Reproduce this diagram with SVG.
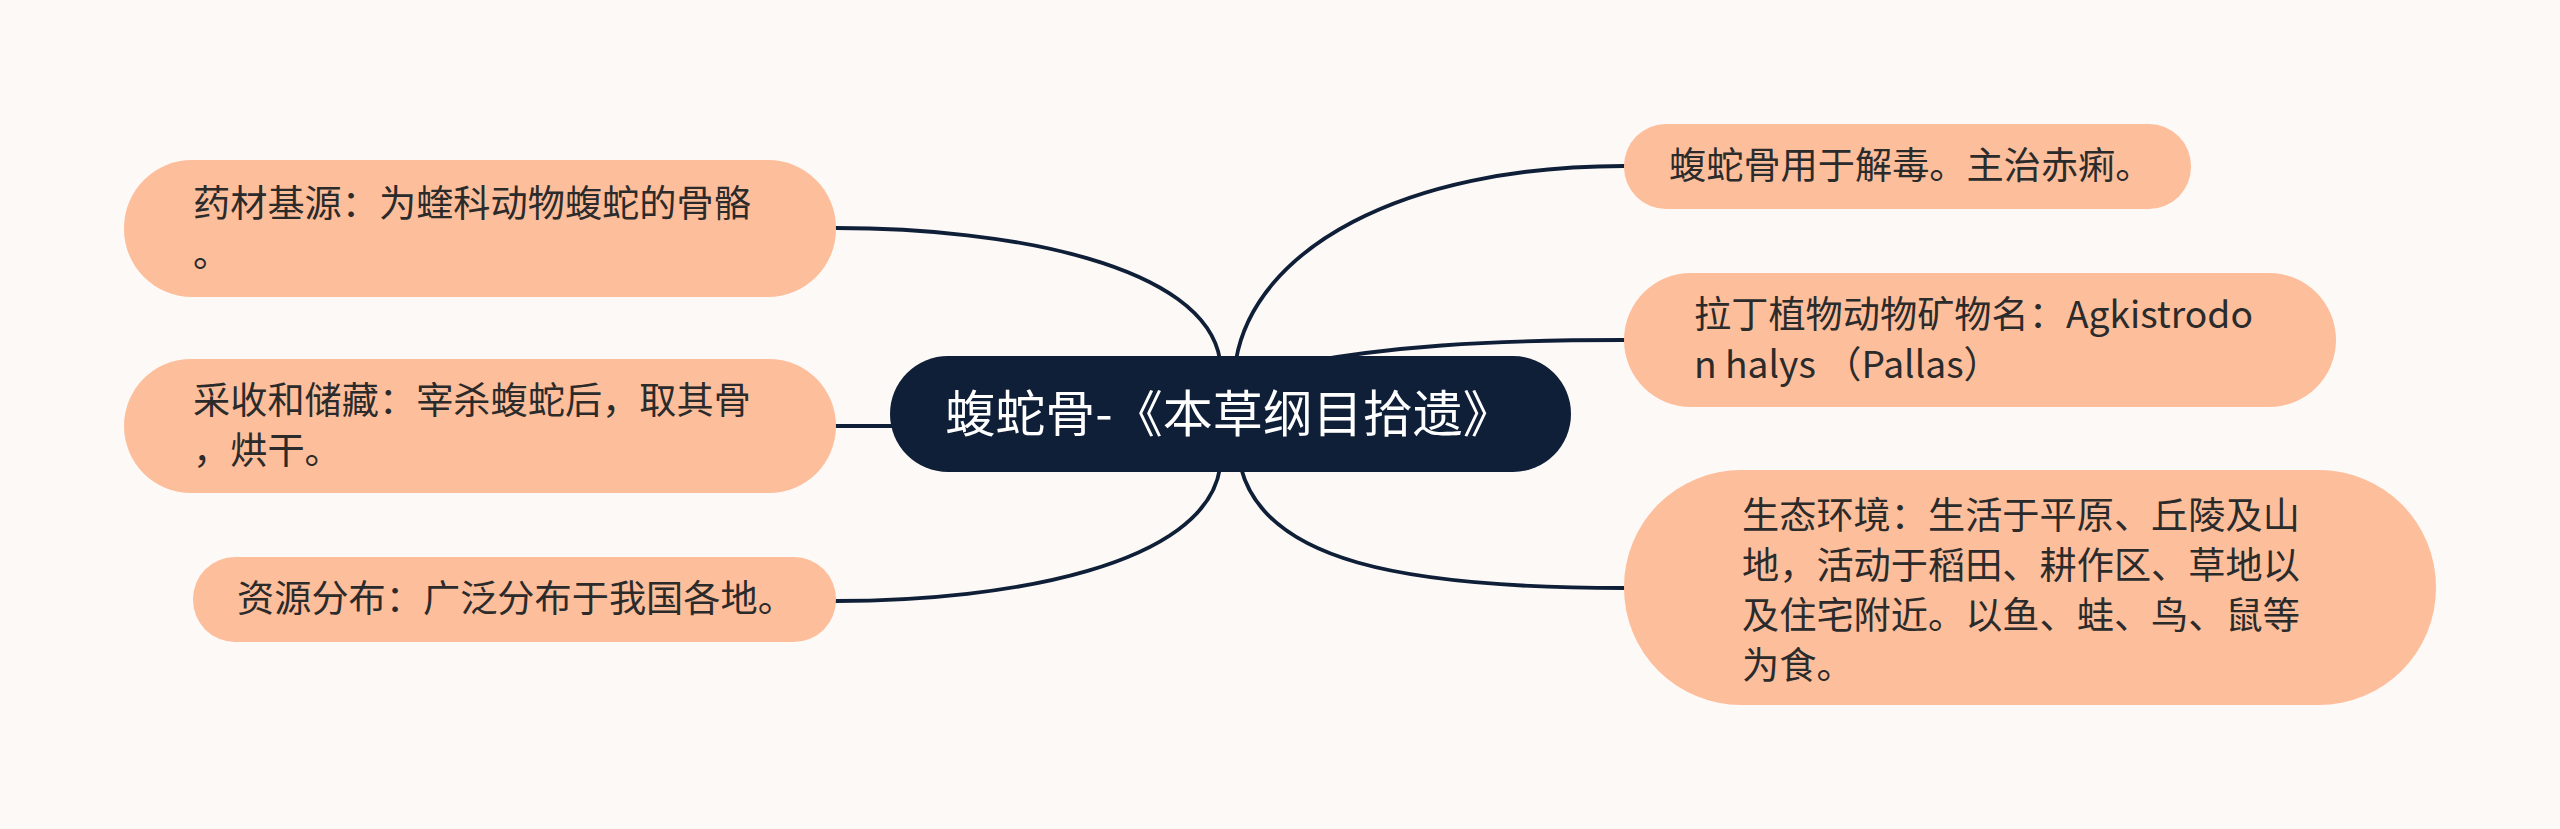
<svg xmlns="http://www.w3.org/2000/svg" width="2560" height="829" viewBox="0 0 2560 829">
<style>
.bg{fill:#fdf9f7}
.leaf{fill:#fdbe9b}
.root{fill:#0f1f38}
.lt{font-family:"Noto Sans CJK SC","Noto Sans",sans-serif;font-size:37.2px;fill:#2b2b2b}
.rt{font-family:"Noto Sans CJK SC","Noto Sans",sans-serif;font-size:50px;fill:#ffffff}
.conn path{fill:none;stroke:#0f1f38;stroke-width:3.8;stroke-linecap:round}
</style>
<rect class="bg" x="0" y="0" width="2560" height="829"/>
<g class="conn" id="connectors">
<path d="M1220 360 C1205 265 1010 228 836 228"/>
<path d="M895 426 L836 426"/>
<path d="M1220 468 C1205 565 1010 601 836 601"/>
<path d="M1236 360 C1255 250 1400 166 1624 166"/>
<path d="M1300 363 C1390 347 1480 340 1624 340"/>
<path d="M1241 468 C1265 560 1400 588 1624 588"/>
</g>
<g id="root">
<rect class="root" x="890" y="356" width="681" height="116" rx="58"/>
<text class="rt" x="1229" y="432" text-anchor="middle">蝮蛇骨-《本草纲目拾遗》</text>
</g>
<g id="left1">
<rect class="leaf" x="124" y="160" width="712" height="137" rx="68"/>
<text class="lt" x="193" y="217">药材基源：为蝰科动物蝮蛇的骨骼</text>
<text class="lt" x="193" y="267">。</text>
</g>
<g id="left2">
<rect class="leaf" x="124" y="359" width="712" height="134" rx="67"/>
<text class="lt" x="193" y="414">采收和储藏：宰杀蝮蛇后，取其骨</text>
<text class="lt" x="193" y="464">，烘干。</text>
</g>
<g id="left3">
<rect class="leaf" x="193" y="557" width="643" height="85" rx="42"/>
<text class="lt" x="237" y="612">资源分布：广泛分布于我国各地。</text>
</g>
<g id="right1">
<rect class="leaf" x="1624" y="124" width="567" height="85" rx="42"/>
<text class="lt" x="1669" y="179">蝮蛇骨用于解毒。主治赤痢。</text>
</g>
<g id="right2">
<rect class="leaf" x="1624" y="273" width="712" height="134" rx="67"/>
<text class="lt" x="1694" y="328">拉丁植物动物矿物名：Agkistrodo</text>
<text class="lt" x="1694" y="378">n halys （Pallas）</text>
</g>
<g id="right3">
<rect class="leaf" x="1624" y="470" width="812" height="235" rx="117"/>
<text class="lt" x="1742" y="529">生态环境：生活于平原、丘陵及山</text>
<text class="lt" x="1742" y="579">地，活动于稻田、耕作区、草地以</text>
<text class="lt" x="1742" y="629">及住宅附近。以鱼、蛙、鸟、鼠等</text>
<text class="lt" x="1742" y="679">为食。</text>
</g>
</svg>
